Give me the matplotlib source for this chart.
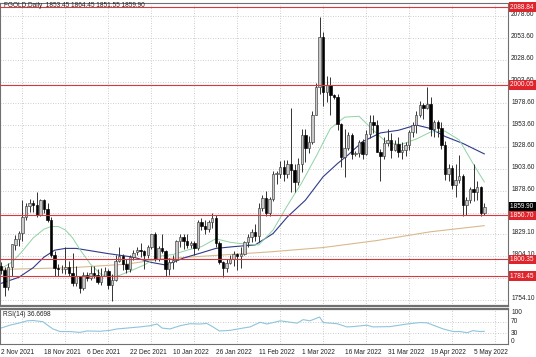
import matplotlib
matplotlib.use('Agg')
import matplotlib.pyplot as plt
import numpy as np
from matplotlib.transforms import blended_transform_factory

plt.rcParams['font.family'] = ['Liberation Sans', 'DejaVu Sans']

# ---------------- data (daily candles, bar index 0 = 2 Nov 2021) ----------------
opens = [1793,1788,1769,1792,1817,1824,1831,1849,1862,1865,1863,1851,1868,1858,1846,1805,1791,1789,1789,1792,
         1785,1774,1781,1768,1783,1779,1785,1783,1775,1782,1787,1771,1777,1799,1804,1795,1789,1803,1809,1811,
         1810,1805,1815,1829,1801,1814,1810,1789,1797,1800,1821,1826,1821,1817,1819,1813,1843,1839,1835,1843,
         1848,1819,1797,1791,1796,1801,1807,1804,1807,1820,1826,1832,1827,1859,1871,1853,1870,1898,1898,1906,
         1898,1910,1903,1889,1909,1943,1928,1935,1966,1998,2055,1992,2000,1988,1986,1955,1918,1928,1943,1921,
         1922,1935,1921,1944,1958,1954,1923,1919,1933,1937,1925,1932,1923,1925,1931,1946,1954,1966,1977,1974,
         1978,1950,1958,1951,1931,1898,1905,1885,1891,1896,1863,1868,1881,1877,1883,1853.45]
highs = [1797,1792,1796,1818,1828,1833,1868,1865,1869,1868,1877,1870,1870,1865,1849,1810,1795,1794,1815,1799,
         1808,1793,1782,1786,1786,1793,1793,1789,1791,1792,1789,1784,1805,1815,1807,1801,1805,1811,1815,1819,
         1811,1817,1830,1832,1816,1830,1811,1802,1805,1823,1829,1829,1830,1822,1822,1845,1848,1846,1845,1853,
         1851,1822,1799,1801,1805,1810,1808,1815,1822,1829,1835,1841,1865,1874,1879,1872,1902,1902,1913,1914,
         1914,1974,1910,1916,1950,1950,1942,1970,2002,2078,2060,2010,2009,1990,1990,1956,1949,1946,1945,1924,
         1937,1938,1948,1966,1966,1960,1927,1940,1950,1945,1937,1940,1935,1935,1948,1957,1970,1982,1979,1998,
         1986,1960,1960,1958,1936,1910,1908,1910,1920,1898,1872,1883,1909,1890,1884,1864.45]
lows = [1784,1759,1766,1782,1811,1816,1822,1845,1855,1855,1849,1850,1853,1843,1803,1782,1781,1785,1784,1781,
        1770,1770,1762,1766,1776,1777,1779,1772,1771,1781,1767,1753,1776,1797,1788,1785,1786,1800,1806,1803,
        1790,1802,1812,1799,1799,1808,1782,1783,1790,1797,1815,1812,1813,1813,1805,1811,1834,1830,1832,1836,
        1815,1795,1780,1786,1795,1793,1788,1791,1805,1815,1820,1822,1820,1856,1850,1850,1867,1887,1893,1890,
        1894,1878,1878,1885,1900,1912,1922,1932,1966,1989,1976,1980,1966,1984,1948,1906,1895,1925,1915,1919,
        1918,1915,1920,1939,1945,1923,1890,1915,1930,1916,1924,1917,1915,1919,1926,1940,1945,1963,1961,1972,
        1942,1940,1940,1927,1891,1890,1881,1872,1888,1850,1851,1865,1867,1868,1850,1851.55]
closes = [1788,1769,1792,1818,1824,1831,1849,1862,1865,1863,1851,1868,1858,1845,1805,1791,1789,1789,1792,1785,
          1774,1781,1768,1783,1779,1785,1783,1775,1782,1787,1771,1777,1799,1804,1795,1789,1803,1808,1811,1810,
          1805,1815,1829,1801,1814,1810,1789,1797,1800,1821,1826,1821,1817,1819,1813,1843,1839,1835,1843,1848,
          1819,1797,1791,1796,1801,1807,1804,1807,1820,1826,1832,1827,1859,1871,1853,1870,1898,1898,1906,1898,
          1910,1903,1889,1909,1943,1928,1935,1966,1998,2055,1992,2000,1988,1986,1955,1918,1928,1943,1921,1922,
          1935,1921,1944,1958,1954,1923,1919,1933,1937,1925,1932,1923,1925,1931,1946,1954,1966,1977,1974,1978,
          1950,1958,1951,1931,1898,1905,1885,1891,1896,1863,1868,1881,1877,1883,1854,1859.90]

# moving averages (bar index, value)
ma_fast_idx = [0,3,6,9,12,14,16,18,20,22,25,28,30,33,36,40,44,48,52,56,60,64,68,72,76,80,84,88,92,96,100,104,108,112,116,120,124,128,132,135]
ma_fast_val = [1790,1797,1810,1825,1835,1838,1838,1834,1825,1812,1795,1783,1781,1782,1787,1794,1804,1806,1811,1815,1824,1820,1818,1817,1834,1862,1888,1918,1950,1963,1964,1948,1933,1932,1938,1946,1947,1937,1909,1889]
ma_mid_idx = [0,5,9,12,15,18,21,24,30,37,42,46,51,56,60,65,71,76,80,85,90,94,97,101,106,111,116,120,124,129,135]
ma_mid_val = [1773,1780,1791,1803,1811,1813,1813,1811,1807,1803,1797,1794,1802,1808,1813,1815,1817,1830,1849,1868,1895,1910,1920,1935,1945,1948,1954,1950,1941,1933,1921]
ma_slow_idx = [0,20,35,45,60,75,90,105,120,135]
ma_slow_val = [1789,1791,1795,1801,1805,1809,1814,1822,1832,1839]

rsi_idx = [0,2.5,5.3,7.3,9,11.7,13,14.5,16.5,19.3,22,24,27.7,30.4,32.4,35.2,38.8,41.6,43.6,45,47.2,50,52.8,55.6,57.5,59.2,61,64,67.6,69.6,72.4,74.3,78,82.7,84.4,86.3,89,90,93.9,96.6,98.3,102.2,103.9,108.7,113.4,117,119,121.8,123.5,126.3,128.2,130.2,131.8,133.8,135]
rsi_val = [48,58,66,73,74,70,58,45,36,36,33,38,37,40,45,48,52,56,62,48,45,56,63,62,64,52,38,40,48,52,68,62,73,65,77,73,86,67,63,52,53,58,52,53,62,67,66,53,45,36,36,32,39,36,36.67]

levels = [2088.84, 2000.05, 1850.70, 1800.35, 1781.45]
level_labels = ['2088.84', '2000.05', '1850.70', '1800.35', '1781.45']
grid_prices = [2078.6, 2053.6, 2028.6, 2003.6, 1978.6, 1953.6, 1928.6, 1903.6, 1878.6, 1853.6, 1829.1, 1804.1, 1779.1, 1754.1]
price_ticks = [2078.6, 2053.6, 2028.6, 2003.6, 1978.6, 1953.6, 1928.6, 1903.6, 1878.6, 1829.1, 1804.1, 1754.1]
date_idx = [0, 12, 24, 36, 48, 60, 72, 84, 96, 108, 120, 132]
date_labels = ['2 Nov 2021', '18 Nov 2021', '6 Dec 2021', '22 Dec 2021', '10 Jan 2022', '26 Jan 2022',
               '11 Feb 2022', '1 Mar 2022', '16 Mar 2022', '31 Mar 2022', '19 Apr 2022', '5 May 2022']
last_price = 1859.90

# ---------------- figure ----------------
W, H = 536, 357
fig = plt.figure(figsize=(W / 100, H / 100), dpi=100)
fig.patch.set_facecolor('white')

def rect(x0, y0, x1, y1):
    return [x0 / W, (H - y1) / H, (x1 - x0) / W, (y1 - y0) / H]

ax = fig.add_axes(rect(0, 3, 508, 306))
axr = fig.add_axes(rect(0, 309, 508, 344))

px_per_bar = 3.58
xl = (-1 / px_per_bar, 507 / px_per_bar)
ppu = 0.875
ax.set_xlim(*xl)
ax.set_ylim(2078.6 - 290 / ppu, 2078.6 + 13 / ppu)
axr.set_xlim(*xl)
axr.set_ylim(-7, 113.8)

spine_c = '#707070'
for a in (ax, axr):
    a.set_xticks([])
    a.set_yticks([])
    for s in a.spines.values():
        s.set_color(spine_c)
        s.set_linewidth(0.8)
ax.spines['bottom'].set_linewidth(1.6)
axr.spines['top'].set_linewidth(1.6)

grid_kw = dict(color='#bdbdbd', lw=0.6, ls=(0, (1, 2)), zorder=0)
for p in grid_prices:
    ax.axhline(p, **grid_kw)
for gi in range(6, 142, 12):
    ax.axvline(gi, **grid_kw)
    axr.axvline(gi, **grid_kw)
for r in (30, 70):
    axr.axhline(r, **grid_kw)

# candles
x = np.arange(len(closes))
o = np.array(opens); h = np.array(highs); l = np.array(lows); c = np.array(closes)
up = c >= o
ax.vlines(x, l, h, color='#333333', lw=0.7, zorder=2)
body_lo = np.minimum(o, c)
body_h = np.maximum(np.abs(c - o), 0.6)
ax.bar(x[up], body_h[up], bottom=body_lo[up], width=0.68, color='#c8c8c8', edgecolor='#3c3c3c', linewidth=0.45, zorder=3)
ax.bar(x[~up], body_h[~up], bottom=body_lo[~up], width=0.68, color='#000000', edgecolor='#000000', linewidth=0.45, zorder=3)

# moving averages
ax.plot(ma_slow_idx, ma_slow_val, color='#d9b98e', lw=0.8, zorder=1.5)
ax.plot(ma_mid_idx, ma_mid_val, color='#2e3a8c', lw=0.8, zorder=1.6)
ax.plot(ma_fast_idx, ma_fast_val, color='#8fd3a4', lw=0.7, zorder=1.7)

# horizontal levels
for lv in levels:
    ax.axhline(lv, color='#d9363e', lw=0.8, zorder=4)

# right price scale
ty = ax.get_yaxis_transform()
fs = 4.7
for p in price_ticks:
    ax.text(1.006, p + 1.5, f'{p:.2f}', transform=ty, fontsize=fs, color='#222222', va='center', ha='left', clip_on=False)
for lv, lab in zip(levels, level_labels):
    ax.text(1.004, lv, lab + '  ', transform=ty, fontsize=fs, color='white', va='center', ha='left', clip_on=False,
            bbox=dict(boxstyle='square,pad=0.2', fc='#e0242b', ec='none'), zorder=6)
ax.text(1.004, last_price + 0.8, f'{last_price:.2f}  ', transform=ty, fontsize=fs, color='white', va='center', ha='left',
        clip_on=False, bbox=dict(boxstyle='square,pad=0.2', fc='#000000', ec='none'), zorder=7)

ax.text(4 / 508, 1 - 2.5 / 303, 'FGOLD,Daily  1853.45 1864.45 1851.55 1859.90', transform=ax.transAxes,
        fontsize=fs, color='#222222', va='center', ha='left', zorder=8)

# RSI panel
axr.plot(rsi_idx, rsi_val, color='#8ec5dc', lw=0.8)
axr.text(3 / 508, 1 - 6 / 35, 'RSI(14) 36.6698', transform=axr.transAxes, fontsize=fs, color='#222222',
         va='center', ha='left')
tyr = axr.get_yaxis_transform()
for r in (100, 70, 30, 0):
    axr.text(1.006, r, str(r), transform=tyr, fontsize=fs, color='#222222', va='center', ha='left', clip_on=False)

# date labels
txr = blended_transform_factory(axr.transData, axr.transAxes)
for di, dl in zip(date_idx, date_labels):
    axr.text(di, -8 / 35, dl, transform=txr, fontsize=fs, color='#222222', va='center', ha='left', clip_on=False)

fig.savefig('out.png', dpi=100, facecolor='white')
